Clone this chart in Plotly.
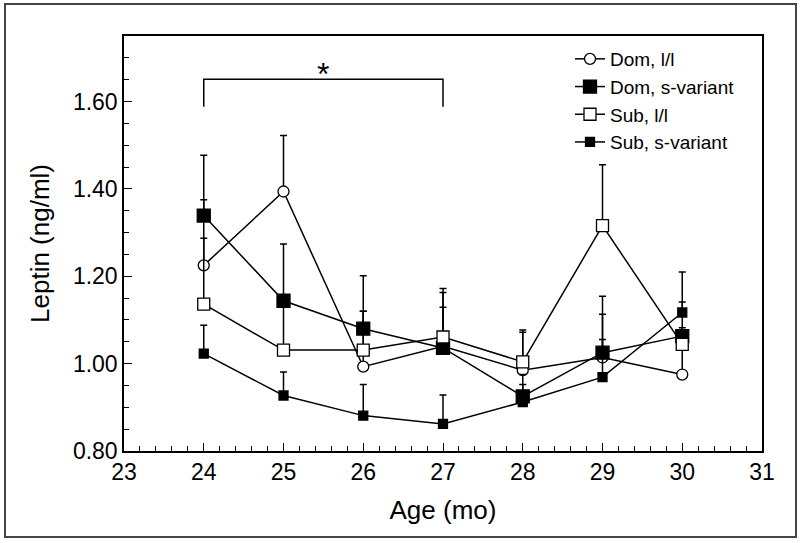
import plotly.graph_objects as go

ages = [24, 25, 26, 27, 28, 29, 30]

dom_ll = [1.225, 1.394, 0.993, 1.040, 0.985, 1.014, 0.975]
dom_ll_se = [0.150, 0.128, 0.127, 0.089, 0.087, 0.099, 0.085]

dom_sv = [1.339, 1.144, 1.080, 1.036, 0.925, 1.025, 1.063]
dom_sv_se = [0.138, 0.130, 0.121, 0.127, 0.050, 0.129, 0.078]

sub_ll = [1.136, 1.031, 1.031, 1.061, 1.004, 1.316, 1.044]
sub_ll_se = [0.151, 0.110, 0.089, 0.111, 0.073, 0.139, 0.038]

sub_sv = [1.023, 0.927, 0.881, 0.862, 0.912, 0.969, 1.117]
sub_sv_se = [0.065, 0.054, 0.071, 0.066, 0.040, 0.086, 0.093]

series_names = ["Dom, l/l", "Dom, s-variant", "Sub, l/l", "Sub, s-variant"]

bracket_x = [24, 24, 27, 27]
bracket_y = [1.588, 1.651, 1.651, 1.588]
star_x = 25.5
star_y = 1.664

FONT = "Arial, 'Liberation Sans', sans-serif"

styles = [
    dict(symbol="circle", color="white", size=11),
    dict(symbol="square", color="black", size=13),
    dict(symbol="square", color="white", size=12),
    dict(symbol="square", color="black", size=9),
]
values = [dom_ll, dom_sv, sub_ll, sub_sv]
errors = [dom_ll_se, dom_sv_se, sub_ll_se, sub_sv_se]

fig = go.Figure()
for name, st, ys, es in zip(series_names, styles, values, errors):
    fig.add_trace(go.Scatter(
        x=ages, y=ys, name=name, mode="lines+markers",
        line=dict(color="black", width=1.5),
        marker=dict(symbol=st["symbol"], color=st["color"], size=st["size"],
                    line=dict(color="black", width=1.3)),
        error_y=dict(type="data", symmetric=False, array=es,
                     arrayminus=[0] * len(es), color="black",
                     thickness=1.5, width=3.5),
    ))

# significance bracket
fig.add_trace(go.Scatter(x=bracket_x, y=bracket_y, mode="lines",
                         line=dict(color="black", width=1.5),
                         showlegend=False, hoverinfo="skip"))
fig.add_annotation(x=star_x, y=star_y, text="*", showarrow=False,
                   font=dict(family=FONT, size=32, color="black"))

L, R, T, B = 124, 38, 36, 92
W, H = 800, 543
pw, ph = W - L - R, H - T - B

def px_x(p):
    return (p - L) / pw

def px_y(p):
    return (H - B - p) / ph

# outer frame
fig.add_shape(type="rect", xref="paper", yref="paper",
              x0=px_x(5), x1=px_x(796), y0=px_y(537), y1=px_y(4),
              line=dict(color="#444444", width=2), layer="below")

axis_common = dict(
    showgrid=False, zeroline=False, showline=True, linecolor="black",
    linewidth=1.5, mirror=True, ticks="inside", ticklen=8, tickwidth=1.3,
    tickcolor="black", tickfont=dict(family=FONT, size=23, color="black"),
)

fig.update_xaxes(range=[23, 31], dtick=1, tick0=23,
                 minor=dict(dtick=0.2, ticks="inside", ticklen=5,
                            tickwidth=1.2, tickcolor="black"),
                 title=dict(text="Age (mo)", font=dict(family=FONT, size=26, color="black"),
                            standoff=16),
                 **axis_common)
fig.update_yaxes(range=[0.8, 1.75], dtick=0.2, tick0=0.8, tickformat=".2f",
                 minor=dict(dtick=0.05, ticks="inside", ticklen=5,
                            tickwidth=1.2, tickcolor="black"),
                 title=dict(text="Leptin (ng/ml)", font=dict(family=FONT, size=26, color="black"),
                            standoff=16),
                 **axis_common)

fig.update_layout(
    width=W, height=H,
    margin=dict(l=L, r=R, t=T, b=B, autoexpand=False),
    paper_bgcolor="white", plot_bgcolor="white",
    font=dict(family=FONT, color="black"),
    legend=dict(x=px_x(570), y=px_y(40), xanchor="left", yanchor="top",
                bgcolor="rgba(0,0,0,0)", font=dict(family=FONT, size=19, color="black"),
                tracegroupgap=0, itemsizing="trace"),
    showlegend=True,
)

fig.write_html("out.html", config={"displayModeBar": False},
               post_script="document.body.style.margin='0';")
